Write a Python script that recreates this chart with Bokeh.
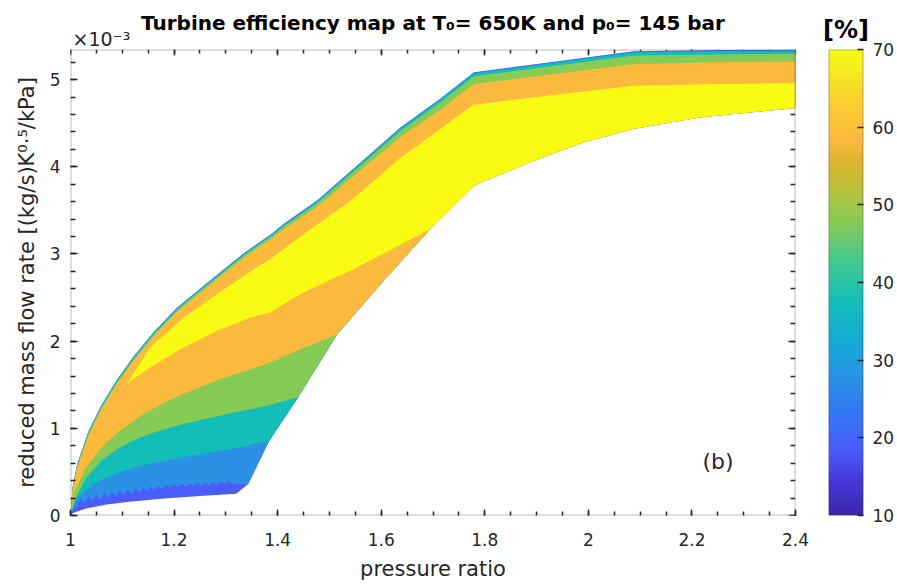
import numpy as np
from bokeh.embed import file_html
from bokeh.layouts import row
from bokeh.models import (BoxAnnotation, CustomJSTickFormatter, FixedTicker, Label,
                          LinearAxis, LinearColorMapper, Range1d, Title)
from bokeh.plotting import figure
from bokeh.resources import INLINE

# ---------------------------------------------------------------------------
# Turbine map: pressure ratio (x) vs reduced mass flow rate (y, 1e-3 (kg/s)K^0.5/kPa)
# ---------------------------------------------------------------------------

# outer edge of the map, upper side
TOP_X = [1.000, 1.004, 1.013, 1.035, 1.060, 1.090, 1.120, 1.160, 1.205, 1.260, 1.335,
         1.388, 1.412, 1.476, 1.560, 1.637, 1.714, 1.779, 2.088, 2.250, 2.400]
TOP_Y = [0.000, 0.320, 0.590, 0.970, 1.270, 1.560, 1.810, 2.100, 2.380, 2.650, 3.010,
         3.230, 3.345, 3.612, 4.050, 4.450, 4.780, 5.084, 5.325, 5.338, 5.345]

# outer edge of the map, lower side
BOT_X = [1.000, 1.005, 1.030, 1.070, 1.110, 1.180, 1.250, 1.320, 1.343, 1.384, 1.440,
         1.515, 1.600, 1.695, 1.779, 1.895, 1.991, 2.088, 2.217, 2.400]
BOT_Y = [0.000, 0.030, 0.080, 0.125, 0.155, 0.195, 0.225, 0.250, 0.360, 0.860, 1.360,
         2.080, 2.660, 3.290, 3.784, 4.070, 4.280, 4.435, 4.568, 4.675]

# iso-efficiency lines, upper branch (same pressure ratios as TOP_X)
UP2_Y = [0.000, 0.317, 0.586, 0.965, 1.265, 1.555, 1.805, 2.095, 2.375, 2.645, 3.004,
         3.224, 3.339, 3.606, 4.044, 4.444, 4.773, 5.077, 5.318, 5.331, 5.338]
UP3_Y = [0.000, 0.315, 0.582, 0.960, 1.260, 1.550, 1.800, 2.090, 2.370, 2.640, 2.998,
         3.218, 3.333, 3.600, 4.038, 4.437, 4.766, 5.069, 5.310, 5.321, 5.325]
UP4_Y = [0.000, 0.308, 0.572, 0.948, 1.246, 1.535, 1.785, 2.075, 2.355, 2.625, 2.985,
         3.205, 3.318, 3.582, 4.015, 4.410, 4.738, 5.039, 5.275, 5.288, 5.295]
UP5_Y = [0.000, 0.290, 0.550, 0.920, 1.220, 1.510, 1.760, 2.050, 2.335, 2.605, 2.960,
         3.175, 3.285, 3.542, 3.960, 4.340, 4.655, 4.949, 5.180, 5.198, 5.205]
UP6_X = [1.109, 1.154, 1.219, 1.283, 1.3605, 1.386, 1.4505, 1.541, 1.637, 1.778,
         1.900, 2.087, 2.250, 2.400]
UP6_Y = [1.510, 1.930, 2.270, 2.540, 2.850, 2.940, 3.230, 3.610, 4.100, 4.710,
         4.800, 4.930, 4.950, 4.960]

# iso-efficiency lines, lower branch (each ends on the lower edge of the map)
LO2_X = [1.000, 1.006, 1.012, 1.020, 1.0275, 1.035, 1.0425, 1.050, 1.0575, 1.065,
         1.0725, 1.080, 1.0875, 1.095, 1.1025, 1.110, 1.1175, 1.125, 1.1325, 1.140,
         1.1475, 1.155, 1.1625, 1.170, 1.1775, 1.185, 1.1925, 1.200, 1.2075, 1.215,
         1.2225, 1.230, 1.2375, 1.245, 1.2525, 1.260, 1.2675, 1.275, 1.2825, 1.290,
         1.2975, 1.305, 1.3125, 1.343]
LO2_Y = [0.000, 0.080, 0.100, 0.190, 0.140, 0.220, 0.165, 0.235, 0.185, 0.255,
         0.205, 0.270, 0.225, 0.288, 0.240, 0.297, 0.253, 0.309, 0.265, 0.321,
         0.277, 0.333, 0.289, 0.340, 0.300, 0.351, 0.312, 0.361, 0.320, 0.364,
         0.327, 0.371, 0.334, 0.377, 0.340, 0.378, 0.346, 0.384, 0.352, 0.390,
         0.358, 0.396, 0.364, 0.360]
LO3_X = [1.000, 1.005, 1.013, 1.025, 1.045, 1.090, 1.154, 1.250, 1.340, 1.384]
LO3_Y = [0.000, 0.110, 0.190, 0.270, 0.360, 0.490, 0.600, 0.700, 0.800, 0.860]
LO4_X = [1.000, 1.010, 1.030, 1.060, 1.090, 1.120, 1.160, 1.212, 1.300, 1.380, 1.440]
LO4_Y = [0.000, 0.200, 0.430, 0.630, 0.760, 0.860, 0.950, 1.040, 1.160, 1.260, 1.360]
LO5_X = [1.000, 1.006, 1.030, 1.060, 1.090, 1.140, 1.180, 1.212, 1.283, 1.380, 1.450, 1.515]
LO5_Y = [0.000, 0.250, 0.550, 0.780, 0.950, 1.160, 1.290, 1.380, 1.550, 1.740, 1.920, 2.080]
LO6_X = [1.109, 1.154, 1.219, 1.283, 1.348, 1.386, 1.444, 1.541, 1.620, 1.695]
LO6_Y = [1.510, 1.700, 1.930, 2.120, 2.270, 2.330, 2.540, 2.810, 3.050, 3.290]

# fill colour of each efficiency band, outermost first
BAND_COLORS = ["#4A5CFA", "#2A91E5", "#13BEB8", "#86CB55", "#FBB93D", "#F9FB15"]

# colour bar
CB_LOW, CB_HIGH = 10, 70
CB_TICKS = [10, 20, 30, 40, 50, 60, 70]
CB_KNOTS = [(0.00, "#3E26A8"), (0.07, "#4636D9"), (0.14, "#4A5CFA"), (0.22, "#3478F4"),
            (0.29, "#2A91E5"), (0.37, "#14A9D8"), (0.46, "#13BEB8"), (0.55, "#45C98E"),
            (0.63, "#86CB55"), (0.70, "#B7C13C"), (0.76, "#DDB52E"), (0.81, "#FBB93D"),
            (0.88, "#FBCC32"), (0.94, "#F4E424"), (1.00, "#F9FB15")]

X_TICKS = [1.0, 1.2, 1.4, 1.6, 1.8, 2.0, 2.2, 2.4]
Y_TICKS = [0, 1, 2, 3, 4, 5]
X_MIN, X_MAX = 1.0, 2.4
Y_MIN, Y_MAX = 0.0, 5.345

TITLE = "Turbine efficiency map at T\u2080= 650K and p\u2080= 145 bar"
Y_EXP = "\u00d710\u207b\u00b3"
XLABEL = "pressure ratio"
YLABEL = "reduced mass flow rate [(kg/s)K\u2070\u00b7\u2075/kPa]"
PANEL_TAG = "(b)"
CB_TITLE = "[%]"

# ---------------------------------------------------------------------------
FONT = "DejaVu Sans"
INK = "#262626"


def make_palette(knots, n=256):
    fr = [k[0] for k in knots]
    rgb = np.array([[int(h[i:i + 2], 16) for i in (1, 3, 5)] for _, h in knots], float)
    t = np.linspace(0, 1, n)
    chans = [np.interp(t, fr, rgb[:, j]) for j in range(3)]
    return ["#%02x%02x%02x" % (int(round(r)), int(round(g)), int(round(b)))
            for r, g, b in zip(*chans)]


def band_region(top_x, top_y, low_x, low_y):
    """Area above the lower iso-line and below the upper one, closed along the map edge."""
    xe = low_x[-1]
    edge = [(x, y) for x, y in zip(BOT_X, BOT_Y) if x > xe + 1e-9][::-1]
    xs = list(top_x) + [e[0] for e in edge] + list(low_x[::-1])
    ys = list(top_y) + [e[1] for e in edge] + list(low_y[::-1])
    return xs, ys


# main frame placement (pixels inside the main figure)
FL, FR, FT, FB = 70, 795, 49, 515
MAIN_W, H = 820, 588

p = figure(width=MAIN_W, height=H, x_range=Range1d(X_MIN, X_MAX),
           y_range=Range1d(Y_MIN, Y_MAX), output_backend="svg", toolbar_location=None,
           title=None, min_border_left=FL, min_border_right=MAIN_W - FR,
           min_border_top=FT, min_border_bottom=H - FB)
p.grid.visible = False
p.outline_line_color = None
p.background_fill_color = "white"
p.border_fill_color = "white"

# nested regions: whole map first, then each higher efficiency band on top
regions = [
    (TOP_X + BOT_X[::-1], TOP_Y + BOT_Y[::-1]),
    band_region(TOP_X, UP2_Y, LO2_X, LO2_Y),
    band_region(TOP_X, UP3_Y, LO3_X, LO3_Y),
    band_region(TOP_X, UP4_Y, LO4_X, LO4_Y),
    band_region(TOP_X, UP5_Y, LO5_X, LO5_Y),
    band_region(UP6_X, UP6_Y, LO6_X, LO6_Y),
]
p.patches(xs=[r[0] for r in regions], ys=[r[1] for r in regions],
          fill_color=BAND_COLORS, line_color=None)

x_minor = [round(1.0 + 0.05 * i, 3) for i in range(29)]
y_minor = [round(0.2 * i, 3) for i in range(27)]


def style_axis(ax, major, minor, labels=True):
    ax.axis_line_color = None
    ax.major_tick_in, ax.major_tick_out = major, 0
    ax.minor_tick_in, ax.minor_tick_out = minor, 0
    ax.major_tick_line_color = INK
    ax.minor_tick_line_color = INK
    ax.major_tick_line_width = 1.5
    ax.minor_tick_line_width = 1.5
    ax.major_label_text_font = FONT
    ax.major_label_text_font_size = "17px" if labels else "1px"
    ax.major_label_text_color = INK
    ax.axis_label_text_font = FONT
    ax.axis_label_text_font_size = "21px"
    ax.axis_label_text_font_style = "normal"
    ax.axis_label_text_color = INK


xt = FixedTicker(ticks=X_TICKS, minor_ticks=x_minor)
yt = FixedTicker(ticks=Y_TICKS, minor_ticks=y_minor)
blank = CustomJSTickFormatter(code="return ''")

xa = p.xaxis[0]
xa.ticker = xt
xa.formatter = CustomJSTickFormatter(code="return String(Math.round(tick * 10) / 10)")
style_axis(xa, 6, 4)
xa.major_label_standoff = 17
xa.axis_label = XLABEL
xa.axis_label_standoff = 8

ya = p.yaxis[0]
ya.ticker = yt
ya.formatter = CustomJSTickFormatter(code="return String(Math.round(tick))")
style_axis(ya, 7, 5)
ya.major_label_standoff = 10
ya.axis_label = YLABEL
ya.axis_label_standoff = 8

# tick-only axes on the top and right edges, kept under the filled map
top_ax = LinearAxis(ticker=xt, formatter=blank, major_label_standoff=0)
style_axis(top_ax, 6, 4, labels=False)
top_ax.level = "underlay"
p.add_layout(top_ax, "above")
right_ax = LinearAxis(ticker=yt, formatter=blank, major_label_standoff=0)
style_axis(right_ax, 7, 5, labels=False)
right_ax.level = "underlay"
p.add_layout(right_ax, "right")

# multiplier of the y axis, then the title above it
p.add_layout(Title(text=Y_EXP, align="left", offset=2, standoff=0, text_font=FONT,
                   text_font_size="19px", text_font_style="normal", text_color=INK),
             "above")
p.add_layout(Title(text=TITLE, align="center", standoff=-19, text_font=FONT,
                   text_font_size="20px", text_font_style="bold", text_color="#000000"),
             "above")

p.add_layout(BoxAnnotation(fill_alpha=0, line_color=INK, line_width=2, level="overlay"))

p.add_layout(Label(x=2.2204, y=0.62, text=PANEL_TAG, text_font=FONT,
                   text_font_size="22px", text_color=INK, text_align="left",
                   text_baseline="middle"))

# ---------------------------------------------------------------------------
# colour bar
CB_W = 897 - MAIN_W
CL, CR = 828 - MAIN_W, 863 - MAIN_W

cb = figure(width=CB_W, height=H, x_range=Range1d(0, 1), y_range=Range1d(CB_LOW, CB_HIGH),
            output_backend="svg", toolbar_location=None, title=None,
            x_axis_location=None, y_axis_location="right",
            min_border_left=CL, min_border_right=CB_W - CR, min_border_top=FT,
            min_border_bottom=H - FB)
cb.grid.visible = False
cb.outline_line_color = None
cb.border_fill_color = "white"
palette = make_palette(CB_KNOTS)
grad = np.linspace(CB_LOW, CB_HIGH, 256).reshape(-1, 1)
cb.image(image=[grad], x=0, y=CB_LOW, dw=1, dh=CB_HIGH - CB_LOW,
         color_mapper=LinearColorMapper(palette=palette, low=CB_LOW, high=CB_HIGH))
ca = cb.yaxis[0]
ca.ticker = FixedTicker(ticks=CB_TICKS)
ca.formatter = CustomJSTickFormatter(code="return String(Math.round(tick))")
ca.axis_line_color = None
ca.major_tick_in, ca.major_tick_out = 6, 0
ca.minor_tick_line_color = None
ca.major_tick_line_color = INK
ca.major_tick_line_width = 1.5
ca.major_label_text_font = FONT
ca.major_label_text_font_size = "17px"
ca.major_label_text_color = INK
ca.major_label_standoff = 9
cb.add_layout(BoxAnnotation(fill_alpha=0, line_color=INK, line_width=2, level="overlay"))

# empty spacer axis above the bar lifts the unit label clear of it
cb_gap = LinearAxis(ticker=FixedTicker(ticks=[0.5]), formatter=blank,
                    major_label_standoff=12, major_label_text_font_size="1px",
                    axis_line_color=None, major_tick_line_color=None,
                    minor_tick_line_color=None)
cb.add_layout(cb_gap, "above")
cb.add_layout(Title(text=CB_TITLE, align="center", offset=-2, standoff=0, text_font=FONT,
                    text_font_size="24px", text_font_style="bold", text_color="#000000"),
              "above")

layout = row(p, cb)
open("out.html", "w").write(file_html(layout, INLINE))
